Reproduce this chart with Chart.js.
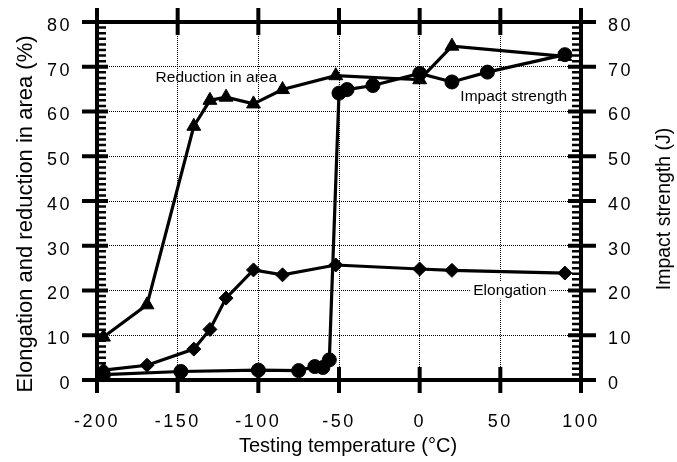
<!DOCTYPE html>
<html>
<head>
<meta charset="utf-8">
<script src="https://cdn.jsdelivr.net/npm/chart.js@4"></script>
<style>
  html, body { margin: 0; padding: 0; background: #fff; }
  #wrap { width: 677px; height: 462px; }
</style>
</head>
<body>
<div id="wrap"><canvas id="chart" width="677" height="462"></canvas></div>
<script>
// --- Data ---
const areaTemps = [-196, -169, -140, -130, -120, -103, -85, -52, 0, 20, 90];
const areaValues = [9.6, 16.8, 56.7, 62.5, 63.2, 61.7, 64.9, 68.0, 67.1, 74.6, 72.3];

const impactTemps = [-196, -148, -100, -75, -65, -60, -56, -50, -45, -29, 0, 20, 42, 90];
const impactValues = [1.2, 1.9, 2.2, 2.1, 3.0, 2.8, 4.5, 64.1, 64.9, 65.8, 68.5, 66.6, 68.8, 72.7];

const elongTemps = [-196, -169, -140, -130, -120, -103, -85, -52, 0, 20, 90];
const elongValues = [2.2, 3.3, 6.9, 11.3, 18.3, 24.6, 23.5, 25.7, 24.8, 24.5, 23.9];

const xTicks = [-200, -150, -100, -50, 0, 50, 100];
const yTicks = [0, 10, 20, 30, 40, 50, 60, 70, 80];

const FONT = "'Liberation Sans', Arial, Helvetica, sans-serif";

function points(xs, ys) {
    return xs.map((t, i) => ({ x: t, y: ys[i] }));
}

// --- Plugins ---
// letter-spaced tick labels, like the scanned figure
const spacing = {
    id: 'spacing',
    beforeDraw(chart) { chart.ctx.letterSpacing = '2.5px'; },
    beforeDatasetsDraw(chart) { chart.ctx.letterSpacing = '0px'; }
};

// thick frame with crossing major ticks and minor ticks on both y axes
const frame = {
    id: 'frame',
    beforeDatasetsDraw(chart) {
        const { ctx, chartArea: a, scales: { x, y } } = chart;
        ctx.save();
        ctx.strokeStyle = '#000';
        ctx.lineCap = 'butt';
        ctx.lineWidth = 4;
        ctx.strokeRect(a.left, a.top, a.right - a.left, a.bottom - a.top);

        ctx.beginPath();
        xTicks.forEach(v => {
            const px = x.getPixelForValue(v);
            ctx.moveTo(px, a.bottom - 13); ctx.lineTo(px, a.bottom + 13);
            ctx.moveTo(px, a.top - 14); ctx.lineTo(px, a.top + 13);
        });
        yTicks.forEach(v => {
            const py = y.getPixelForValue(v);
            ctx.moveTo(a.left - 15, py); ctx.lineTo(a.left + 11, py);
            ctx.moveTo(a.right - 13, py); ctx.lineTo(a.right + 15, py);
        });
        ctx.stroke();

        ctx.lineWidth = 2.5;
        ctx.beginPath();
        for (let v = 1.25; v < 80; v += 1.25) {
            if (v % 10 === 0) continue;
            const py = y.getPixelForValue(v);
            ctx.moveTo(a.left, py); ctx.lineTo(a.left + 9, py);
            ctx.moveTo(a.right - 9, py); ctx.lineTo(a.right, py);
        }
        ctx.stroke();
        ctx.restore();
    }
};

// series names inside the plot and the axis titles
const texts = {
    id: 'texts',
    afterDatasetsDraw(chart) {
        const { ctx, scales: { x, y } } = chart;
        ctx.save();
        ctx.letterSpacing = '0px';
        ctx.fillStyle = '#000';
        ctx.textBaseline = 'alphabetic';
        ctx.font = '15.5px ' + FONT;

        ctx.textAlign = 'left';
        ctx.fillText('Reduction in area', x.getPixelForValue(-163.7), y.getPixelForValue(66.7));
        ctx.fillText('Impact strength', x.getPixelForValue(25.2), y.getPixelForValue(62.4));

        const ex = x.getPixelForValue(33.2), ey = y.getPixelForValue(19.1);
        const w = ctx.measureText('Elongation').width;
        ctx.fillStyle = '#fff';
        ctx.fillRect(ex - 3, ey - 13, w + 6, 17);
        ctx.fillStyle = '#000';
        ctx.fillText('Elongation', ex, ey);

        // x title
        ctx.textAlign = 'center';
        ctx.font = '20px ' + FONT;
        ctx.fillText('Testing temperature (°C)', 348, 452);

        // left title
        ctx.save();
        ctx.translate(32, 214);
        ctx.rotate(-Math.PI / 2);
        ctx.font = '22px ' + FONT;
        ctx.fillText('Elongation and reduction in area (%)', 0, 0);
        ctx.restore();

        // right title
        ctx.save();
        ctx.translate(670, 209);
        ctx.rotate(-Math.PI / 2);
        ctx.font = '19.5px ' + FONT;
        ctx.fillText('Impact strength (J)', 0, 0);
        ctx.restore();

        ctx.restore();
    }
};

// --- Chart ---
const seriesStyle = {
    borderColor: '#000',
    backgroundColor: '#000',
    pointBackgroundColor: '#000',
    pointBorderColor: '#000',
    borderWidth: 3.2,
    pointBorderWidth: 1,
    tension: 0,
    clip: false
};

const ctx = document.getElementById('chart').getContext('2d');
new Chart(ctx, {
    type: 'line',
    data: {
        datasets: [
            Object.assign({
                label: 'Reduction in area',
                data: points(areaTemps, areaValues),
                pointStyle: 'triangle',
                pointRadius: 8,
                yAxisID: 'y'
            }, seriesStyle),
            Object.assign({
                label: 'Impact strength',
                data: points(impactTemps, impactValues),
                pointStyle: 'circle',
                pointRadius: 7,
                yAxisID: 'y2'
            }, seriesStyle),
            Object.assign({
                label: 'Elongation',
                data: points(elongTemps, elongValues),
                pointStyle: 'rectRot',
                pointRadius: 7,
                yAxisID: 'y'
            }, seriesStyle)
        ]
    },
    options: {
        responsive: false,
        animation: false,
        devicePixelRatio: 1,
        layout: { padding: { top: 22, left: 0, right: 0, bottom: 0 } },
        plugins: {
            legend: { display: false },
            tooltip: { enabled: false }
        },
        scales: {
            x: {
                type: 'linear',
                min: -200,
                max: 100,
                afterBuildTicks: s => { s.ticks = xTicks.map(v => ({ value: v })); },
                afterFit: s => { s.height = 82; s.paddingLeft = 0; s.paddingRight = 0; },
                grid: { color: '#000', lineWidth: 1, drawTicks: false },
                border: { display: false, dash: [1, 1] },
                ticks: {
                    color: '#000',
                    font: { family: FONT, size: 18 },
                    padding: 31,
                    maxRotation: 0,
                    autoSkip: false
                }
            },
            y: {
                position: 'left',
                min: 0,
                max: 80,
                afterBuildTicks: s => { s.ticks = yTicks.map(v => ({ value: v })); },
                afterFit: s => { s.width = 97; s.paddingTop = 0; s.paddingBottom = 0; },
                grid: { color: '#000', lineWidth: 1, drawTicks: false },
                border: { display: false, dash: [1, 1] },
                ticks: {
                    color: '#000',
                    font: { family: FONT, size: 18 },
                    padding: 25,
                    labelOffset: 4
                }
            },
            y2: {
                position: 'right',
                min: 0,
                max: 80,
                afterBuildTicks: s => { s.ticks = yTicks.map(v => ({ value: v })); },
                afterFit: s => { s.width = 96; s.paddingTop = 0; s.paddingBottom = 0; },
                grid: { display: false, drawTicks: false },
                border: { display: false },
                ticks: {
                    color: '#000',
                    font: { family: FONT, size: 18 },
                    padding: 27,
                    labelOffset: 4
                }
            }
        }
    },
    plugins: [spacing, frame, texts]
});
</script>
</body>
</html>
